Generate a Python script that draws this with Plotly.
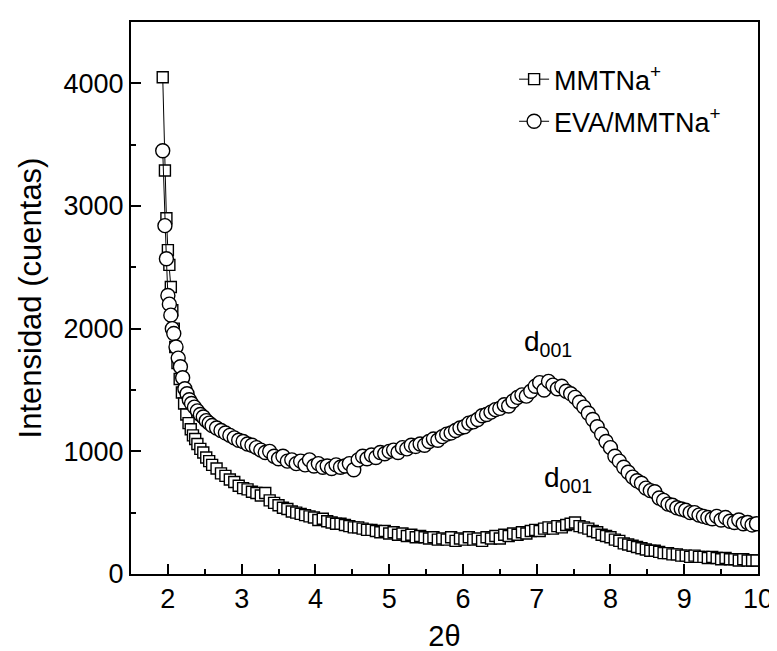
import plotly.graph_objects as go

# MMTNa+ (squares)
mmt_x = [1.93, 1.96, 1.98, 2.00, 2.02, 2.04, 2.06, 2.08, 2.10, 2.13, 2.16, 2.19, 2.22, 2.25, 2.28, 2.31,
         2.34, 2.37, 2.40, 2.44, 2.48, 2.52, 2.56,
         2.60, 2.66, 2.72, 2.78, 2.84, 2.90, 2.96, 3.02, 3.08, 3.14, 3.20, 3.26, 3.32, 3.38, 3.44, 3.50,
         3.56, 3.62, 3.68, 3.74, 3.80, 3.86, 3.92, 3.98, 4.04, 4.10, 4.16, 4.22, 4.28, 4.34, 4.40, 4.46,
         4.52, 4.58, 4.64, 4.70, 4.76, 4.82, 4.88, 4.94, 5.00, 5.06, 5.12, 5.18, 5.24, 5.30, 5.36, 5.42,
         5.48, 5.54, 5.60, 5.66, 5.72, 5.78, 5.84, 5.90, 5.96, 6.02, 6.08, 6.14, 6.20, 6.26, 6.32, 6.38,
         6.44, 6.50, 6.56, 6.62, 6.68, 6.74, 6.80, 6.86, 6.92, 6.98, 7.04, 7.10, 7.16, 7.22, 7.28, 7.34,
         7.40, 7.46, 7.52, 7.58, 7.64, 7.70, 7.76, 7.82, 7.88, 7.94, 8.00, 8.06, 8.12, 8.18, 8.24, 8.30,
         8.36, 8.42, 8.48, 8.54, 8.60, 8.66, 8.72, 8.78, 8.84, 8.90, 8.96, 9.02, 9.08, 9.14, 9.20, 9.26,
         9.32, 9.38, 9.44, 9.50, 9.56, 9.62, 9.68, 9.74, 9.80, 9.86, 9.92, 9.98]
mmt_y = [4050, 3290, 2900, 2640, 2520, 2340, 2150, 2000, 1850, 1720, 1590, 1480, 1390, 1300, 1230, 1180,
         1130, 1100, 1060, 1020, 990, 950, 920,
         890, 860, 820, 800, 770, 750, 720, 700, 690, 670, 660, 640, 660, 600, 580, 560,
         540, 530, 510, 500, 490, 480, 470, 460, 440, 450, 430, 420, 410, 410, 400, 390,
         380, 380, 370, 360, 360, 350, 340, 350, 330, 340, 320, 330, 310, 320, 300, 310,
         300, 290, 300, 280, 290, 280, 300, 270, 290, 280, 300, 280, 290, 270, 300, 290,
         310, 290, 320, 310, 330, 320, 340, 330, 350, 360, 350, 370, 380, 370, 390, 380,
         400, 410, 420, 390, 380, 370, 350, 340, 320, 310, 300, 280, 270, 250, 240, 230,
         220, 210, 200, 190, 190, 180, 170, 170, 160, 160, 150, 150, 140, 150, 140, 140,
         130, 140, 130, 120, 130, 120, 120, 110, 120, 110, 110, 110]

# EVA/MMTNa+ (circles)
eva_x = [1.93, 1.96, 1.98, 2.00, 2.02, 2.04, 2.06, 2.08, 2.11, 2.14, 2.17, 2.20, 2.23, 2.26, 2.29, 2.32,
         2.36, 2.40, 2.44, 2.48, 2.52, 2.56,
         2.60, 2.66, 2.72, 2.78, 2.84, 2.90, 2.96, 3.02, 3.08, 3.14, 3.20, 3.26, 3.32, 3.38, 3.44, 3.50,
         3.56, 3.62, 3.68, 3.74, 3.80, 3.86, 3.92, 3.98, 4.04, 4.10, 4.16, 4.22, 4.28, 4.34, 4.40, 4.46,
         4.52, 4.58, 4.64, 4.70, 4.76, 4.82, 4.88, 4.94, 5.00, 5.06, 5.12, 5.18, 5.24, 5.30, 5.36, 5.42,
         5.48, 5.54, 5.60, 5.66, 5.72, 5.78, 5.84, 5.90, 5.96, 6.02, 6.08, 6.14, 6.20, 6.26, 6.32, 6.38,
         6.44, 6.50, 6.56, 6.62, 6.68, 6.74, 6.80, 6.86, 6.92, 6.98, 7.04, 7.10, 7.16, 7.22, 7.28, 7.34,
         7.40, 7.46, 7.52, 7.58, 7.64, 7.70, 7.76, 7.82, 7.88, 7.94, 8.00, 8.06, 8.12, 8.18, 8.24, 8.30,
         8.36, 8.42, 8.48, 8.54, 8.60, 8.66, 8.72, 8.78, 8.84, 8.90, 8.96, 9.02, 9.08, 9.14, 9.20, 9.26,
         9.32, 9.38, 9.44, 9.50, 9.56, 9.62, 9.68, 9.74, 9.80, 9.86, 9.92, 9.98]
eva_y = [3450, 2840, 2570, 2270, 2200, 2110, 2000, 1960, 1850, 1760, 1690, 1600, 1510, 1470, 1420, 1390,
         1360, 1330, 1300, 1280, 1250, 1230,
         1210, 1190, 1170, 1150, 1130, 1110, 1090, 1080, 1060, 1050, 1030, 1010, 990, 1000, 960, 940,
         960, 920, 930, 900, 920, 890, 930, 880, 900, 870, 880, 860, 890, 870, 880, 900,
         850, 930, 960, 940, 970, 950, 990, 980, 1000, 1010, 990, 1030, 1020, 1050, 1040, 1060,
         1050, 1080, 1100, 1090, 1120, 1140, 1150, 1170, 1190, 1200, 1230, 1240, 1260, 1290, 1300, 1320,
         1340, 1350, 1380, 1370, 1410, 1440, 1460, 1450, 1490, 1530, 1560, 1500, 1570, 1540, 1510, 1530,
         1490, 1470, 1440, 1400, 1360, 1310, 1260, 1200, 1140, 1080, 1030, 960, 920, 870, 830, 790,
         760, 740, 700, 680, 670, 620, 600, 570, 560, 540, 530, 520, 500, 500, 480, 470,
         460, 450, 470, 440, 460, 430, 420, 440, 410, 420, 400, 410]

series_names = ["MMTNa<sup>+</sup>", "EVA/MMTNa<sup>+</sup>"]
x_ticks = [2, 3, 4, 5, 6, 7, 8, 9, 10]
y_ticks = [0, 1000, 2000, 3000, 4000]
peak_labels = [("d<sub>001</sub>", 7.15, 1880), ("d<sub>001</sub>", 7.42, 770)]

FONT = "Liberation Sans, Arial, sans-serif"

fig = go.Figure()
fig.add_trace(go.Scatter(
    x=mmt_x, y=mmt_y, name=series_names[0], mode="lines+markers", legendgroup="a",
    line=dict(color="black", width=1),
    marker=dict(symbol="square", size=11, color="white", line=dict(color="black", width=1.4)),
))
fig.add_trace(go.Scatter(
    x=eva_x, y=eva_y, name=series_names[1], mode="lines+markers", legendgroup="b",
    line=dict(color="black", width=1),
    marker=dict(symbol="circle", size=14, color="white", line=dict(color="black", width=1.4)),
))

for txt, xx, yy in peak_labels:
    fig.add_annotation(x=xx, y=yy, text=txt, showarrow=False,
                       font=dict(family=FONT, size=28, color="black"))

fig.update_layout(
    width=777, height=651,
    margin=dict(l=123, r=19, t=14, b=82),
    paper_bgcolor="white", plot_bgcolor="white",
    font=dict(family=FONT, color="black", size=27),
    showlegend=True,
    legend=dict(x=0.611, y=0.94, xanchor="left", yanchor="top",
                font=dict(family=FONT, size=27), bgcolor="rgba(0,0,0,0)",
                tracegroupgap=4, traceorder="grouped"),
    xaxis=dict(range=[1.5, 10], tickvals=x_ticks, ticks="inside", ticklen=10, tickwidth=1.5,
               tickcolor="black", showline=True, linewidth=2, linecolor="black", mirror=True,
               showgrid=False, zeroline=False,
               minor=dict(ticks="inside", ticklen=5, tickwidth=1.5, tickcolor="black", dtick=0.5),
               title=dict(text="2θ", font=dict(size=29), standoff=12),
               tickfont=dict(size=27)),
    yaxis=dict(range=[0, 4500], tickvals=y_ticks, ticks="inside", ticklen=10, tickwidth=1.5,
               tickcolor="black", showline=True, linewidth=2, linecolor="black", mirror=True,
               showgrid=False, zeroline=False,
               minor=dict(ticks="inside", ticklen=5, tickwidth=1.5, tickcolor="black", dtick=500),
               title=dict(text="Intensidad (cuentas)", font=dict(size=31), standoff=13),
               tickfont=dict(size=27)),
)

fig.write_html("out.html")
